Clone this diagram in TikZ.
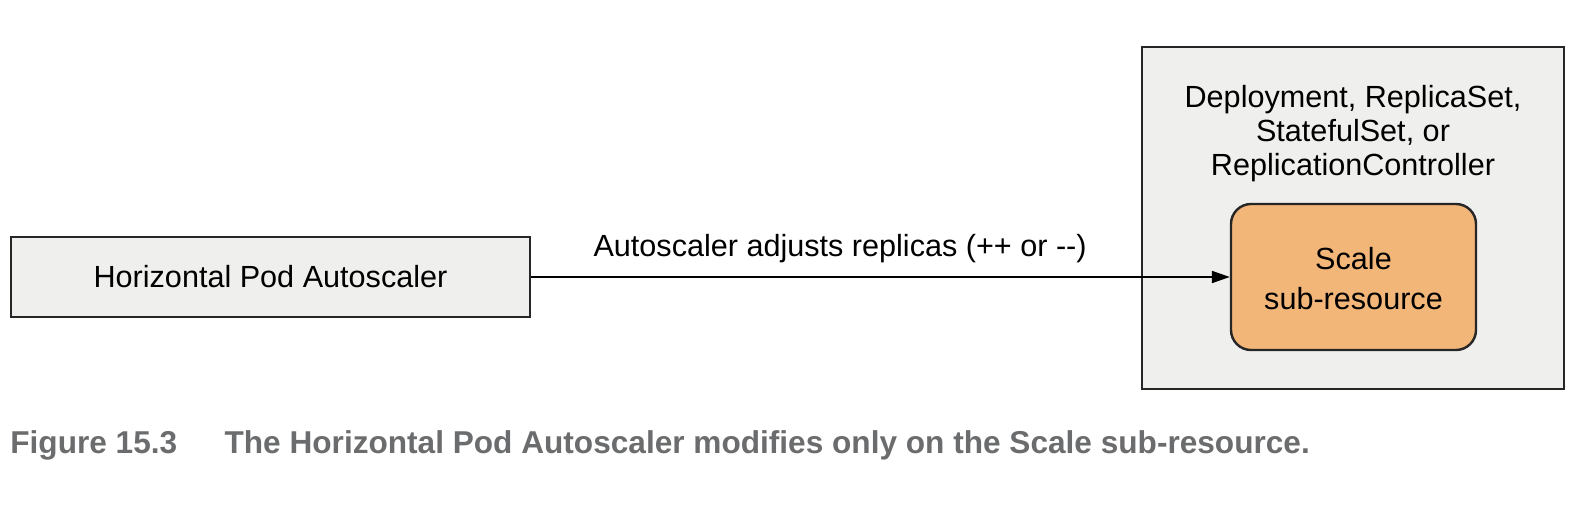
\documentclass[tikz,border=0pt]{standalone}
\usepackage{fontspec}
\setmainfont{Liberation Sans}
\usepackage{tikz}
\usetikzlibrary{arrows.meta}
\definecolor{boxgray}{HTML}{EFEFEE}
\definecolor{scaleorange}{HTML}{F2B679}
\definecolor{captiongray}{HTML}{6B6C6E}

\tikzset{
  plainbox/.style={draw=black!85, line width=1.4pt, fill=boxgray},
  scalebox/.style={draw=black!85, line width=1.2pt, fill=scaleorange,
    rounded corners=10pt, align=center},
  boxtext/.style={font=\fontsize{15.3}{17}\selectfont, align=center, inner sep=0pt}
}

\begin{document}
\begin{tikzpicture}[x=0.5pt, y=-0.5pt]
    \useasboundingbox (0,0) rectangle (1590,504);
    \node[plainbox, minimum width=259.5pt, minimum height=40pt] (hpa) at (270.5,277) {};
    \node[boxtext] (hpatext) at (hpa.center) {Horizontal Pod Autoscaler};
    \node[plainbox, minimum width=211pt, minimum height=171pt] (ctrl) at (1353,218) {};
    \node[boxtext] (ctrltext) at (1353,134) {Deployment, ReplicaSet,\\StatefulSet, or\\ReplicationController};
    \node[scalebox, minimum width=122.5pt, minimum height=73pt] (scale) at (1353.5,277) {};
    \node[boxtext] (scaletext) at (1353.5,279) {Scale\\[3pt]sub-resource};
    \draw[line width=1pt, -{Triangle[length=9pt, width=6pt]}] (hpa.east)
      -- node[boxtext, above=6.5pt, pos=0.442] (adjust) {Autoscaler adjusts replicas (++ or -{}-)} (scale.west);
    \node[anchor=base west, inner sep=0pt, text=captiongray,
      font=\fontsize{15.8}{19}\selectfont\bfseries] (caption) at (10,453)
      {Figure 15.3\hspace{1.5em}The Horizontal Pod Autoscaler modifies only on the Scale sub-resource.};
\end{tikzpicture}
\end{document}
